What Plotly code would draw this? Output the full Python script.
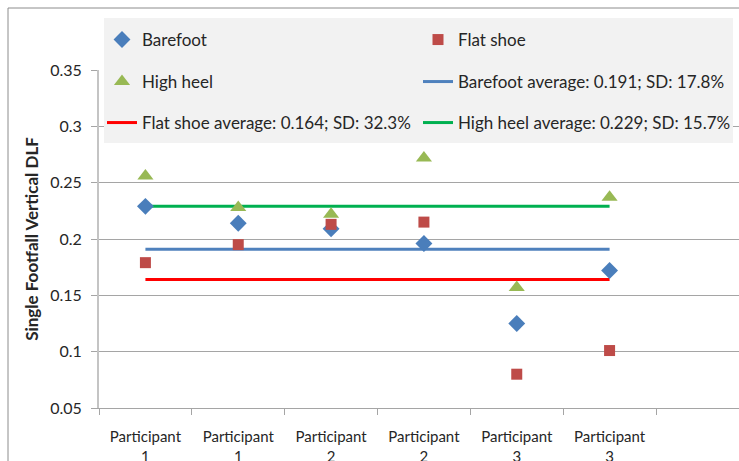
import plotly.graph_objects as go

categories = ["Participant 1", "Participant 1", "Participant 2", "Participant 2", "Participant 3", "Participant 3"]
tick_labels = ["Participant<br>1", "Participant<br>1", "Participant<br>2", "Participant<br>2", "Participant<br>3", "Participant<br>3"]
barefoot = [0.229, 0.214, 0.209, 0.196, 0.125, 0.172]
flat_shoe = [0.179, 0.195, 0.213, 0.215, 0.080, 0.101]
high_heel = [0.256, 0.228, 0.222, 0.272, 0.157, 0.237]
barefoot_avg, barefoot_sd = 0.191, "17.8%"
flat_avg, flat_sd = 0.164, "32.3%"
high_avg, high_sd = 0.229, "15.7%"

W, H = 739, 461
L, R, T, B = 99, 0, 70, 53
pw, ph = W - L - R, H - T - B

def px(xp):
    return (xp - L) / pw

def py(yp):
    return (H - B - yp) / ph

xpos = list(range(1, len(categories) + 1))
xline = [xpos[0], xpos[-1]]
FONT = "Lato"
TXT = "#262626"
GRID = "#A5A5A5"

fig = go.Figure()
fig.add_trace(go.Scatter(x=xline, y=[barefoot_avg] * 2, mode="lines",
                         line=dict(color="#4F81BD", width=3), legendrank=4,
                         name=f"Barefoot average: {barefoot_avg}; SD: {barefoot_sd}", legend="legend2"))
fig.add_trace(go.Scatter(x=xline, y=[flat_avg] * 2, mode="lines",
                         line=dict(color="#FF0000", width=3), legendrank=5,
                         name=f"Flat shoe average: {flat_avg}; SD: {flat_sd}", legend="legend3"))
fig.add_trace(go.Scatter(x=xline, y=[high_avg] * 2, mode="lines",
                         line=dict(color="#00B050", width=3), legendrank=6,
                         name=f"High heel average: {high_avg}; SD: {high_sd}", legend="legend3"))
fig.add_trace(go.Scatter(x=xpos, y=barefoot, mode="markers", name="Barefoot", legendrank=1,
                         marker=dict(symbol="diamond", size=13, color="#4A7EBB"), legend="legend"))
fig.add_trace(go.Scatter(x=xpos, y=flat_shoe, mode="markers", name="Flat shoe", legendrank=2,
                         marker=dict(symbol="square", size=11, color="#BE4B48"), legend="legend"))
fig.add_trace(go.Scatter(x=xpos, y=high_heel, mode="markers", name="High heel", legendrank=3,
                         marker=dict(symbol="triangle-up", size=14, color="#98B954"), legend="legend2"))

leg_common = dict(orientation="h", xanchor="left", yanchor="middle", x=px(102),
                  bgcolor="rgba(0,0,0,0)", entrywidth=271, entrywidthmode="pixels",
                  font=dict(family=FONT, size=17, color=TXT), traceorder="normal")

fig.update_layout(
    width=W, height=H,
    margin=dict(l=L, r=R, t=T, b=B, autoexpand=False),
    paper_bgcolor="white", plot_bgcolor="white",
    font=dict(family=FONT, size=15, color=TXT),
    showlegend=True,
    legend=dict(leg_common, y=py(40)),
    legend2=dict(leg_common, y=py(82)),
    legend3=dict(leg_common, y=py(123)),
    xaxis=dict(range=[0.5, 0.5 + (W - L - R) / ((656 - 99) / 6)], tickvals=xpos, ticktext=tick_labels,
               ticks="", showgrid=False, zeroline=False, showline=True, linecolor=GRID,
               automargin=False,
               ticklabelstandoff=15, tickfont=dict(family=FONT, size=15, color=TXT),
               minor=dict(tickvals=[x - 0.5 for x in xpos] + [xpos[-1] + 0.5], ticks="outside",
                          ticklen=6, tickcolor=GRID, showgrid=False)),
    yaxis=dict(range=[0.05, 0.35], dtick=0.05, tick0=0.05, showgrid=True, gridcolor=GRID,
               zeroline=False, showline=True, linecolor="#C4C4C4", linewidth=2, ticks="outside", ticklen=6,
               automargin=False,
               tickcolor=GRID, ticklabelstandoff=6, tickfont=dict(family=FONT, size=16, color=TXT),
               title=dict(text="<b>Single Footfall Vertical DLF</b>", standoff=7,
                          font=dict(family=FONT, size=17, color=TXT))),
    shapes=[
        dict(type="rect", xref="paper", yref="paper", x0=px(8), x1=1.05, y0=-0.5, y1=py(8),
             line=dict(color="#8C8C8C", width=1), fillcolor="rgba(0,0,0,0)", layer="below"),
        dict(type="rect", xref="paper", yref="paper", x0=px(104), x1=px(733), y0=py(143), y1=py(18),
             line=dict(width=0), fillcolor="#F2F2F2", layer="above"),
    ],
)

fig.write_html("out.html", config={"displayModeBar": False},
               post_script="document.body.style.margin='0px';")
